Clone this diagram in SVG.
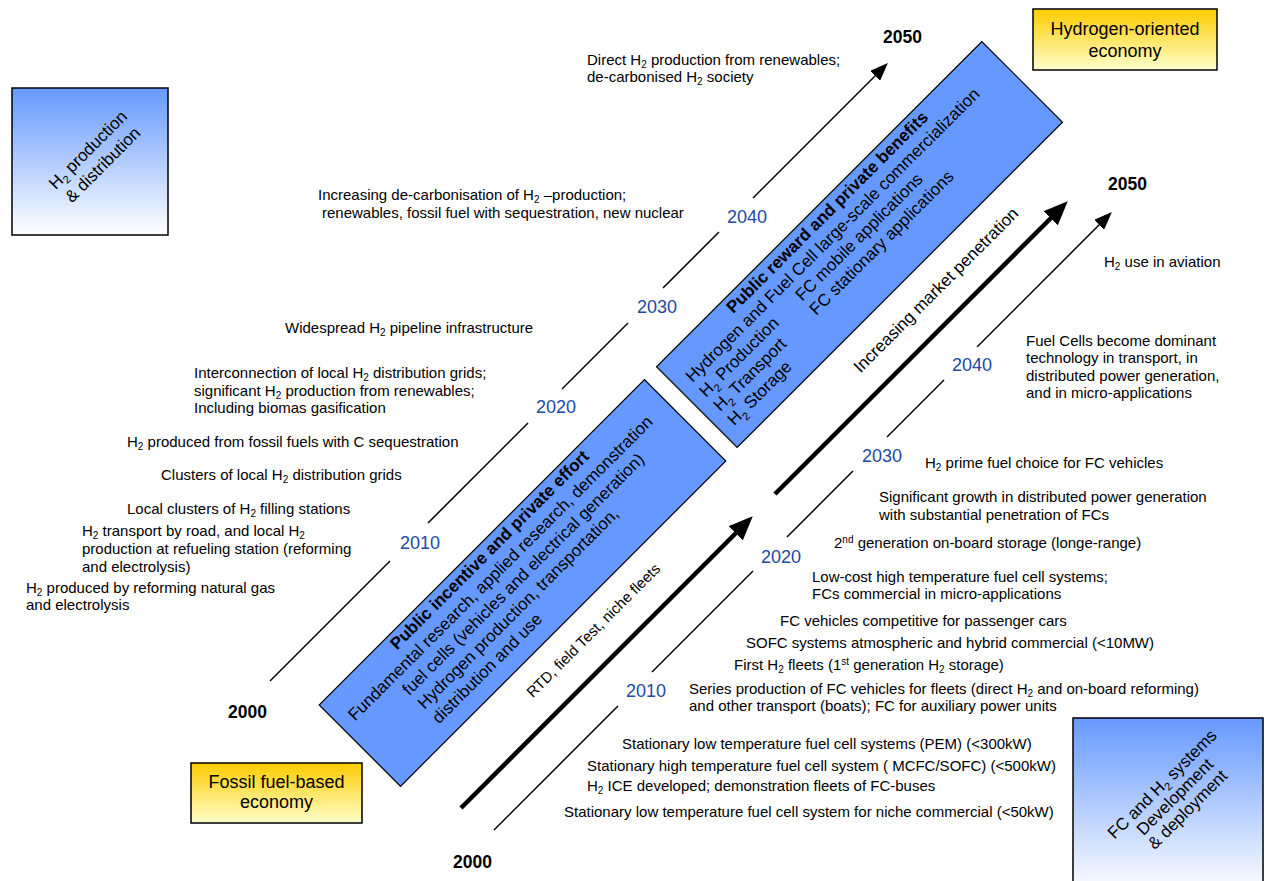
<svg xmlns="http://www.w3.org/2000/svg" width="1267" height="881" viewBox="0 0 1267 881">
<defs>
<style>
text{font-family:"Liberation Sans",Arial,sans-serif;fill:#000}
.t{font-size:15px}
.yr{font-size:18px;fill:#2149A3}
.yb{font-size:17.5px;font-weight:bold}
.bx{font-size:17px}
.bt{font-size:17px;font-weight:bold}
.lab{font-size:18px}
.thin{stroke:#000;stroke-width:1.5;fill:none}
.thick{stroke:#000;stroke-width:4.5;fill:none}
.band{fill:#6699FF;stroke:#000;stroke-width:1.2}
.ybox{fill:url(#gy);stroke:#000;stroke-width:1.5}
.bbox{fill:url(#gb);stroke:#000;stroke-width:1.5}
</style>
<linearGradient id="gy" x1="0" y1="0" x2="0" y2="1"><stop offset="0" stop-color="#FFCC00"/><stop offset="1" stop-color="#FFFFCC"/></linearGradient>
<linearGradient id="gb" x1="0" y1="0" x2="0" y2="1"><stop offset="0" stop-color="#6699FF"/><stop offset="1" stop-color="#FFFFFF"/></linearGradient>
<marker id="ahThin" markerUnits="userSpaceOnUse" markerWidth="18" markerHeight="14" refX="4" refY="7" orient="auto"><path d="M0,0 L18,7 L0,14 z" fill="#000"/></marker>
<marker id="ahThick" markerUnits="userSpaceOnUse" markerWidth="24" markerHeight="20" refX="6" refY="10" orient="auto"><path d="M0,0 L24,10 L0,20 z" fill="#000"/></marker>
</defs>
<rect width="1267" height="881" fill="#fff"/>

<g id="connectors">
<line class="thin" x1="270" y1="681" x2="390" y2="561"/>
<line class="thin" x1="428" y1="523" x2="528" y2="423"/>
<line class="thin" x1="562" y1="389" x2="628" y2="323"/>
<line class="thin" x1="663" y1="288" x2="719" y2="232"/>
<line class="thin" x1="753" y1="198" x2="878" y2="73" marker-end="url(#ahThin)"/>
<line class="thin" x1="494" y1="830" x2="618" y2="706"/>
<line class="thin" x1="652" y1="672" x2="753" y2="571"/>
<line class="thin" x1="787" y1="537" x2="853" y2="471"/>
<line class="thin" x1="887" y1="437" x2="944" y2="380"/>
<line class="thin" x1="977" y1="347" x2="1102" y2="222" marker-end="url(#ahThin)"/>
<line class="thick" x1="461" y1="808" x2="740" y2="529" marker-end="url(#ahThick)"/>
<line class="thick" x1="775" y1="494" x2="1055" y2="214" marker-end="url(#ahThick)"/>
</g>

<g id="box-h2prod">
<rect class="bbox" x="12" y="88" width="156" height="147"/>
<g transform="translate(88,150) rotate(-45)">
<text class="bx" x="0" y="5.5" text-anchor="middle">H<tspan font-size="11" dy="4">2</tspan><tspan dy="-4"> production</tspan></text>
<text class="bx" x="0" y="26.5" text-anchor="middle">&amp; distribution</text>
</g>
</g>

<g id="box-fcdev">
<rect class="bbox" x="1073" y="718" width="190" height="175"/>
<g transform="translate(1175,797) rotate(-45)">
<text class="bx" x="0" y="-12.5" text-anchor="middle">FC and H<tspan font-size="11" dy="4">2</tspan><tspan dy="-4"> systems</tspan></text>
<text class="bx" x="0" y="5.5" text-anchor="middle">Development</text>
<text class="bx" x="0" y="23.5" text-anchor="middle">&amp; deployment</text>
</g>
</g>

<g id="box-hydrogen-economy">
<rect class="ybox" x="1033" y="9" width="184" height="61"/>
<text class="lab" x="1125" y="35" text-anchor="middle">Hydrogen-oriented</text>
<text class="lab" x="1125" y="57" text-anchor="middle">economy</text>
</g>

<g id="box-fossil-economy">
<rect class="ybox" x="191" y="763" width="171" height="60"/>
<text class="lab" x="276.5" y="788" text-anchor="middle">Fossil fuel-based</text>
<text class="lab" x="276.5" y="808" text-anchor="middle">economy</text>
</g>

<g id="band-public-incentive" transform="translate(522.5,583) rotate(-45)">
<rect class="band" x="-230" y="-57.5" width="460" height="115"/>
<text class="bt" x="0" y="-41" text-anchor="middle">Public incentive and private effort</text>
<text class="bx" x="-216.5" y="-20.5">Fundamental research, applied research, demonstration</text>
<text class="bx" x="-160" y="0">fuel cells (vehicles and electrical generation)</text>
<text class="bx" x="-159" y="20.5">Hydrogen production, transportation,</text>
<text class="bx" x="-159" y="41">distribution and use</text>
</g>

<g id="band-public-reward" transform="translate(859.5,244.5) rotate(-45)">
<rect class="band" x="-230" y="-57" width="460" height="114"/>
<text class="bt" x="0" y="-40" text-anchor="middle">Public reward and private benefits</text>
<text class="bx" x="-216" y="-20">Hydrogen and Fuel Cell large-scale commercialization</text>
<text class="bx" x="-217" y="0">H<tspan font-size="11" dy="5">2</tspan><tspan dy="-5"> Production</tspan></text>
<text class="bx" x="-81" y="0">FC mobile applications</text>
<text class="bx" x="-217" y="20">H<tspan font-size="11" dy="5">2</tspan><tspan dy="-5"> Transport</tspan></text>
<text class="bx" x="-81" y="20">FC stationary applications</text>
<text class="bx" x="-217" y="40">H<tspan font-size="11" dy="5">2</tspan><tspan dy="-5"> Storage</tspan></text>
</g>

<g id="label-market-penetration" transform="translate(940,294) rotate(-45)">
<text class="bx" x="0" y="0" text-anchor="middle">Increasing market penetration</text>
</g>
<g id="label-rtd" transform="translate(597,634) rotate(-45)">
<text class="t" x="0" y="0" text-anchor="middle">RTD, field Test, niche fleets</text>
</g>

<g id="years">
<text class="yb" x="883" y="43">2050</text>
<text class="yb" x="1108" y="190">2050</text>
<text class="yb" x="228" y="718">2000</text>
<text class="yb" x="453" y="868">2000</text>
<text class="yr" x="400" y="549">2010</text>
<text class="yr" x="536" y="413">2020</text>
<text class="yr" x="637" y="313">2030</text>
<text class="yr" x="727" y="223">2040</text>
<text class="yr" x="626" y="697">2010</text>
<text class="yr" x="761" y="563">2020</text>
<text class="yr" x="862" y="462">2030</text>
<text class="yr" x="952" y="371">2040</text>
</g>

<g id="milestones-production">
<text class="t" x="587" y="65">Direct H<tspan font-size="10" dy="3">2</tspan><tspan dy="-3"> production from renewables;</tspan></text>
<text class="t" x="587" y="82">de-carbonised H<tspan font-size="10" dy="3">2</tspan><tspan dy="-3"> society</tspan></text>
<text class="t" x="318" y="200">Increasing de-carbonisation of H<tspan font-size="10" dy="3">2</tspan><tspan dy="-3"> –production;</tspan></text>
<text class="t" x="322" y="218">renewables, fossil fuel with sequestration, new nuclear</text>
<text class="t" x="285" y="333">Widespread H<tspan font-size="10" dy="3">2</tspan><tspan dy="-3"> pipeline infrastructure</tspan></text>
<text class="t" x="194" y="378">Interconnection of local H<tspan font-size="10" dy="3">2</tspan><tspan dy="-3"> distribution grids;</tspan></text>
<text class="t" x="194" y="396">significant H<tspan font-size="10" dy="3">2</tspan><tspan dy="-3"> production from renewables;</tspan></text>
<text class="t" x="194" y="413">Including biomas gasification</text>
<text class="t" x="127" y="447">H<tspan font-size="10" dy="3">2</tspan><tspan dy="-3"> produced from fossil fuels with C sequestration</tspan></text>
<text class="t" x="161" y="480">Clusters of local H<tspan font-size="10" dy="3">2</tspan><tspan dy="-3"> distribution grids</tspan></text>
<text class="t" x="127" y="514">Local clusters of H<tspan font-size="10" dy="3">2</tspan><tspan dy="-3"> filling stations</tspan></text>
<text class="t" x="82" y="536">H<tspan font-size="10" dy="3">2</tspan><tspan dy="-3"> transport by road, and local H</tspan><tspan font-size="10" dy="3">2</tspan></text>
<text class="t" x="82" y="554">production at refueling station (reforming</text>
<text class="t" x="82" y="572">and electrolysis)</text>
<text class="t" x="26" y="593">H<tspan font-size="10" dy="3">2</tspan><tspan dy="-3"> produced by reforming natural gas</tspan></text>
<text class="t" x="26" y="610">and electrolysis</text>
</g>

<g id="milestones-fc">
<text class="t" x="1104" y="267">H<tspan font-size="10" dy="3">2</tspan><tspan dy="-3"> use in aviation</tspan></text>
<text class="t" x="1026" y="346">Fuel Cells become dominant</text>
<text class="t" x="1026" y="363">technology in transport, in</text>
<text class="t" x="1026" y="381">distributed power generation,</text>
<text class="t" x="1026" y="398">and in micro-applications</text>
<text class="t" x="925" y="468">H<tspan font-size="10" dy="3">2</tspan><tspan dy="-3"> prime fuel choice for FC vehicles</tspan></text>
<text class="t" x="879" y="502">Significant growth in distributed power generation</text>
<text class="t" x="879" y="520">with substantial penetration of FCs</text>
<text class="t" x="834" y="548">2<tspan font-size="10" dy="-5">nd</tspan><tspan dy="5"> generation on-board storage (longe-range)</tspan></text>
<text class="t" x="812" y="582">Low-cost high temperature fuel cell systems;</text>
<text class="t" x="812" y="599">FCs commercial in micro-applications</text>
<text class="t" x="780" y="626">FC vehicles competitive for passenger cars</text>
<text class="t" x="746" y="648">SOFC systems atmospheric and hybrid commercial (&lt;10MW)</text>
<text class="t" x="734" y="670">First H<tspan font-size="10" dy="3">2</tspan><tspan dy="-3"> fleets (1</tspan><tspan font-size="10" dy="-5">st</tspan><tspan dy="5"> generation H</tspan><tspan font-size="10" dy="3">2</tspan><tspan dy="-3"> storage)</tspan></text>
<text class="t" x="689" y="694">Series production of FC vehicles for fleets (direct H<tspan font-size="10" dy="3">2</tspan><tspan dy="-3"> and on-board reforming)</tspan></text>
<text class="t" x="689" y="711">and other transport (boats); FC for auxiliary power units</text>
<text class="t" x="622" y="749">Stationary low temperature fuel cell systems (PEM) (&lt;300kW)</text>
<text class="t" x="587" y="771">Stationary high temperature fuel cell system ( MCFC/SOFC) (&lt;500kW)</text>
<text class="t" x="587" y="791">H<tspan font-size="10" dy="3">2</tspan><tspan dy="-3"> ICE developed; demonstration fleets of FC-buses</tspan></text>
<text class="t" x="564" y="817">Stationary low temperature fuel cell system for niche commercial (&lt;50kW)</text>
</g>
</svg>
